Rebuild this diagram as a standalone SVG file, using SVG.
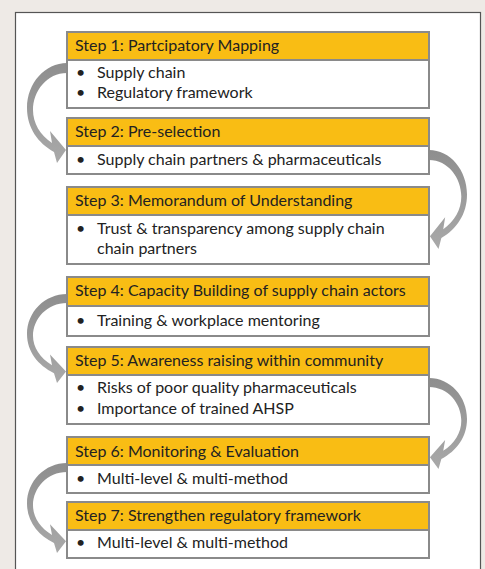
<svg xmlns="http://www.w3.org/2000/svg" width="485" height="569" viewBox="0 0 485 569">
  <style>
    .hd { fill: #f9bd14; stroke: #8a8a8a; stroke-width: 2; }
    .bd { fill: #ffffff; stroke: #8a8a8a; stroke-width: 2; }
    .t { font-family: Lato, "Open Sans", "Liberation Sans", sans-serif; font-size: 16px; fill: #222222; }
    .arw { fill: url(#arwGrad); }
  </style>
  <defs>
    <linearGradient id="arwGrad" x1="0" y1="0" x2="0" y2="1">
      <stop offset="0" stop-color="#8e8e8e"/>
      <stop offset="1" stop-color="#a9a9a9"/>
    </linearGradient>
    <!-- curved block arrow, drawn leftwards from origin (box edge) and back -->
    <path id="curve" class="arw" d="M0,0 C-22,0 -40,20 -40,45 C-40,65 -29,80 -13,89 L-10,100 L-1,87 L-17,68 L-15,80 C-27,72 -34,60 -34,47 C-34,28 -20,10 0,10 Z"/>
  </defs>

  <rect width="485" height="569" fill="#eeeae6"/>
  <rect x="15.5" y="12.5" width="465" height="570" fill="#ffffff" stroke="#555555" stroke-width="1.2"/>

  <g id="connectors">
    <use href="#curve" transform="translate(67,63) scale(1,1)"/>
    <use href="#curve" transform="translate(429,150) scale(-0.95,0.99)"/>
    <use href="#curve" transform="translate(67,294) scale(1,0.89)"/>
    <use href="#curve" transform="translate(429,378) scale(-0.95,0.91)"/>
    <use href="#curve" transform="translate(67,463) scale(1,0.9)"/>
  </g>

  <g id="step1">
    <rect class="hd" x="67" y="32" width="362" height="28"/>
    <rect class="bd" x="67" y="60" width="362" height="48"/>
    <text class="t" x="75" y="51">Step 1: Partcipatory Mapping</text>
    <text class="t" x="76" y="78">•</text><text class="t" x="97" y="78">Supply chain</text>
    <text class="t" x="76" y="98">•</text><text class="t" x="97" y="98">Regulatory framework</text>
  </g>

  <g id="step2">
    <rect class="hd" x="67" y="118" width="362" height="28"/>
    <rect class="bd" x="67" y="146" width="362" height="28"/>
    <text class="t" x="75" y="137">Step 2: Pre-selection</text>
    <text class="t" x="76" y="165">•</text><text class="t" x="97" y="165">Supply chain partners &amp; pharmaceuticals</text>
  </g>

  <g id="step3">
    <rect class="hd" x="67" y="187" width="362" height="28"/>
    <rect class="bd" x="67" y="215" width="362" height="49"/>
    <text class="t" x="75" y="206">Step 3: Memorandum of Understanding</text>
    <text class="t" x="76" y="234">•</text><text class="t" x="97" y="234">Trust &amp; transparency among supply chain</text>
    <text class="t" x="97" y="254">chain partners</text>
  </g>

  <g id="step4">
    <rect class="hd" x="67" y="277" width="362" height="29"/>
    <rect class="bd" x="67" y="306" width="362" height="30"/>
    <text class="t" x="75" y="296">Step 4: Capacity Building of supply chain actors</text>
    <text class="t" x="76" y="326">•</text><text class="t" x="97" y="326">Training &amp; workplace mentoring</text>
  </g>

  <g id="step5">
    <rect class="hd" x="67" y="347" width="362" height="28"/>
    <rect class="bd" x="67" y="375" width="362" height="49"/>
    <text class="t" x="75" y="366">Step 5: Awareness raising within community</text>
    <text class="t" x="76" y="393">•</text><text class="t" x="97" y="393">Risks of poor quality pharmaceuticals</text>
    <text class="t" x="76" y="414">•</text><text class="t" x="97" y="414">Importance of trained AHSP</text>
  </g>

  <g id="step6">
    <rect class="hd" x="67" y="437" width="362" height="28"/>
    <rect class="bd" x="67" y="465" width="362" height="28"/>
    <text class="t" x="75" y="457">Step 6: Monitoring &amp; Evaluation</text>
    <text class="t" x="76" y="484">•</text><text class="t" x="97" y="484">Multi-level &amp; multi-method</text>
  </g>

  <g id="step7">
    <rect class="hd" x="67" y="502" width="362" height="28"/>
    <rect class="bd" x="67" y="530" width="362" height="28"/>
    <text class="t" x="75" y="521">Step 7: Strengthen regulatory framework</text>
    <text class="t" x="76" y="548">•</text><text class="t" x="97" y="548">Multi-level &amp; multi-method</text>
  </g>
</svg>
